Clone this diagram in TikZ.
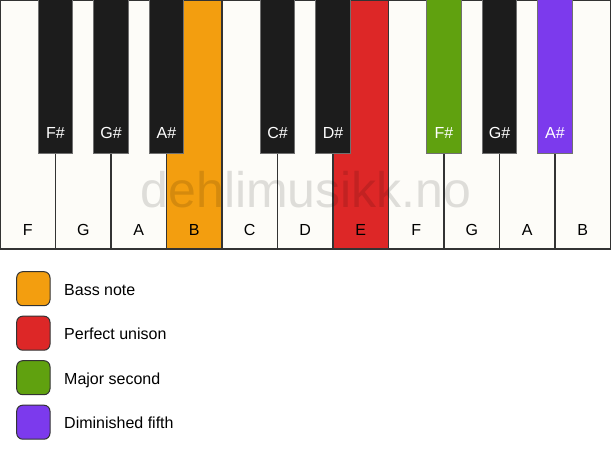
\documentclass[tikz,border=0pt]{standalone}
\usepackage{fontspec}
\setmainfont{Liberation Sans}
\definecolor{keywhite}{HTML}{FDFCF8}
\definecolor{keyblack}{HTML}{1C1C1C}
\definecolor{keyedge}{HTML}{333333}
\definecolor{cbass}{HTML}{F39E0F}
\definecolor{cunison}{HTML}{DD2727}
\definecolor{csecond}{HTML}{60A10F}
\definecolor{cfifth}{HTML}{7C3AED}
\begin{document}
\begin{tikzpicture}[x=1pt,y=-1pt,
  whitekey/.style={draw=keyedge,line width=1.2pt,fill=keywhite},
  blackkey/.style={draw=keyedge!70,line width=0.6pt,fill=keyblack},
  wlabel/.style={font=\fontsize{16}{19}\selectfont,text=black,inner sep=0pt,anchor=base},
  blabel/.style={font=\fontsize{16}{19}\selectfont,text=white,inner sep=0pt,anchor=base},
  swatch/.style={draw=keyedge,line width=1pt,rounded corners=6pt},
  legtext/.style={font=\fontsize{16}{19}\selectfont,anchor=base west,inner sep=0pt}]
\useasboundingbox (0,0) rectangle (611,461);
\fill[white] (0,0) rectangle (611,461);
% white keys
\foreach \i/\n/\c in {0/F/keywhite,1/G/keywhite,2/A/keywhite,3/B/cbass,4/C/keywhite,5/D/keywhite,6/E/cunison,7/F/keywhite,8/G/keywhite,9/A/keywhite,10/B/keywhite}{
  \draw[whitekey,fill=\c] ({\i*55.5},0) rectangle ({(\i+1)*55.5},249);
  \node[wlabel] (w\i) at ({\i*55.5+27.75},235.7) {\n};
}
% black keys
\foreach \i/\n/\c in {1/F\#/keyblack,2/G\#/keyblack,3/A\#/keyblack,5/C\#/keyblack,6/D\#/keyblack,8/F\#/csecond,9/G\#/keyblack,10/A\#/cfifth}{
  \draw[blackkey,fill=\c] ({\i*55.5-17.25},-1) rectangle ({\i*55.5+17.25},153);
  \node[blabel] (b\i) at ({\i*55.5},138.5) {\n};
}
% watermark
\node[font=\fontsize{50}{54}\selectfont,text=black,opacity=0.12,anchor=base,inner sep=0pt] (wm) at (306,207.5) {dehlimusikk.no};
% legend
\foreach \k/\c/\t in {0/cbass/Bass note,1/cunison/Perfect unison,2/csecond/Major second,3/cfifth/Diminished fifth}{
  \draw[swatch,fill=\c] (16.7,{271.7+\k*44.5}) rectangle (50,{305.7+\k*44.5});
  \node[legtext] (l\k) at (64,{295.3+\k*44.5}) {\t};
}
\end{tikzpicture}
\end{document}
